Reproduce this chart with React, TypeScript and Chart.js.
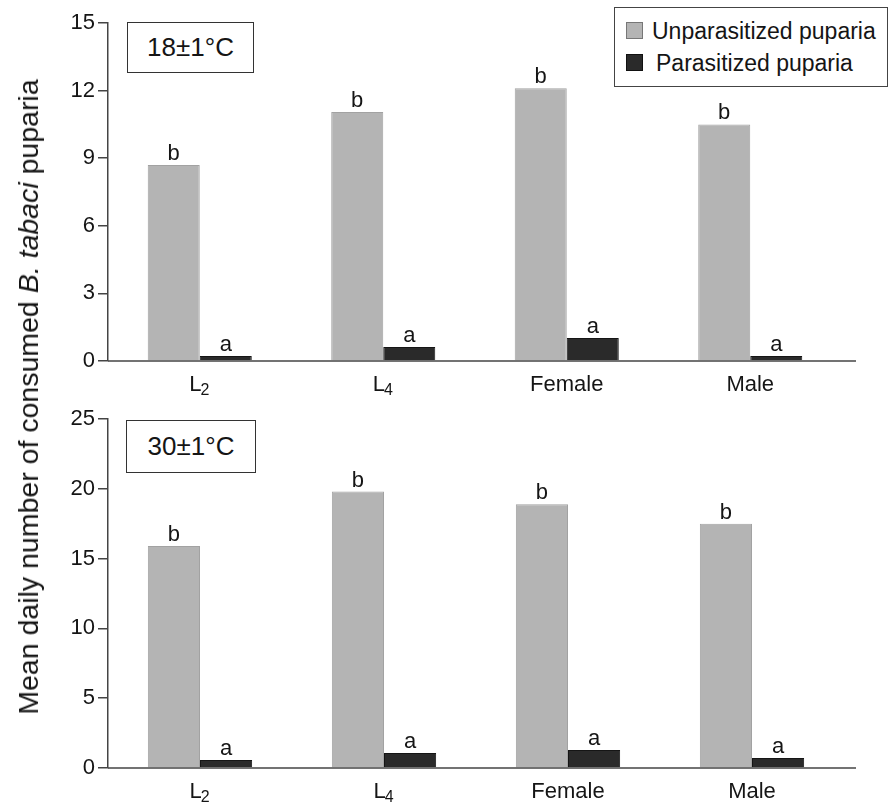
import React, { useEffect, useRef } from "react";
import { Chart, registerables } from "chart.js";

Chart.register(...registerables);

// ---------- data ----------
const categoryLabels = ["L", "L", "Female", "Male"];
const categorySubscripts = ["2", "4", "", ""];

const seriesNames = ["Unparasitized puparia", "Parasitized puparia"];

const top18Unparasitized = [8.7, 11.05, 12.1, 10.5];
const top18Parasitized = [0.22, 0.62, 1.02, 0.22];
const top18UnparLetters = ["b", "b", "b", "b"];
const top18ParLetters = ["a", "a", "a", "a"];
const top18Ticks = { min: 0, max: 15, step: 3 };

const bottom30Unparasitized = [15.9, 19.8, 18.9, 17.5];
const bottom30Parasitized = [0.57, 1.07, 1.29, 0.72];
const bottom30UnparLetters = ["b", "b", "b", "b"];
const bottom30ParLetters = ["a", "a", "a", "a"];
const bottom30Ticks = { min: 0, max: 25, step: 5 };

const panelTitles = ["18\u00b11\u00b0C", "30\u00b11\u00b0C"];
const yTitleParts = ["Mean daily number of consumed ", "B. tabaci", " puparia"];

// ---------- styles ----------
const FONT = "'Liberation Sans', Arial, Helvetica, sans-serif";
const TEXT = "#151515";
const AXIS = "#444444";
const GRAY = "#b4b4b4";
const GRAY_BORDER = "#a2a2a2";
const DARK = "#2a2a2a";
const DARK_BORDER = "#151515";

const annotatePlugin = {
  id: "annotate",
  afterDatasetsDraw(chart: any, _args: any, opts: any) {
    const ctx = chart.ctx;
    const area = chart.chartArea;
    const xs = chart.scales.x;
    ctx.save();
    // x axis line (extends a bit past the last group)
    ctx.strokeStyle = AXIS;
    ctx.lineWidth = 1.5;
    ctx.beginPath();
    ctx.moveTo(area.left, area.bottom);
    ctx.lineTo(area.right + opts.axisExtend, area.bottom);
    ctx.stroke();

    // significance letters
    ctx.fillStyle = TEXT;
    ctx.font = `22px ${FONT}`;
    ctx.textAlign = "center";
    ctx.textBaseline = "alphabetic";
    chart.data.datasets.forEach((_ds: any, di: number) => {
      const meta = chart.getDatasetMeta(di);
      meta.data.forEach((bar: any, i: number) => {
        const letter = opts.letters[di][i];
        if (letter) ctx.fillText(letter, bar.x, bar.y - 5);
      });
    });

    // category labels with subscripts
    ctx.textAlign = "left";
    categoryLabels.forEach((lab, i) => {
      const cx = xs.getPixelForValue(i);
      const sub = categorySubscripts[i];
      ctx.font = `22px ${FONT}`;
      const wMain = ctx.measureText(lab).width;
      ctx.font = `16px ${FONT}`;
      const wSub = sub ? ctx.measureText(sub).width : 0;
      const start = cx - (wMain + wSub) / 2;
      ctx.font = `22px ${FONT}`;
      ctx.fillText(lab, start, area.bottom + 30);
      if (sub) {
        ctx.font = `16px ${FONT}`;
        ctx.fillText(sub, start + wMain - 1, area.bottom + 34);
      }
    });
    ctx.restore();
  },
};

type PanelProps = {
  top: number;
  height: number;
  unpar: number[];
  par: number[];
  letters: string[][];
  ticks: { min: number; max: number; step: number };
  padTop: number;
  padRight: number;
  xHeight: number;
  axisExtend: number;
};

function Panel(p: PanelProps) {
  const ref = useRef<HTMLCanvasElement | null>(null);
  useEffect(() => {
    if (!ref.current) return;
    const chart = new Chart(ref.current, {
      type: "bar",
      data: {
        labels: categoryLabels.map((l, i) => l + categorySubscripts[i]),
        datasets: [
          {
            label: seriesNames[0],
            data: p.unpar,
            backgroundColor: GRAY,
            borderColor: GRAY_BORDER,
            borderWidth: 1,
            categoryPercentage: 0.567,
            barPercentage: 1,
          },
          {
            label: seriesNames[1],
            data: p.par,
            backgroundColor: DARK,
            borderColor: DARK_BORDER,
            borderWidth: 1,
            categoryPercentage: 0.567,
            barPercentage: 1,
          },
        ],
      },
      options: {
        responsive: false,
        animation: false,
        layout: { padding: { left: 0, right: p.padRight, top: p.padTop, bottom: 0 } },
        plugins: {
          legend: { display: false },
          tooltip: { enabled: false },
          annotate: { letters: p.letters, axisExtend: p.axisExtend },
        } as any,
        scales: {
          x: {
            type: "category",
            offset: true,
            grid: { display: false },
            border: { display: false },
            ticks: { display: false },
            afterFit: (s: any) => {
              s.height = p.xHeight;
            },
          },
          y: {
            min: p.ticks.min,
            max: p.ticks.max,
            ticks: {
              stepSize: p.ticks.step,
              color: TEXT,
              font: { size: 22, family: FONT },
              padding: 3,
            },
            grid: {
              display: true,
              drawOnChartArea: false,
              drawTicks: true,
              tickLength: 10,
              color: AXIS,
              lineWidth: 1.5,
            },
            border: { display: true, color: AXIS, width: 1.5 },
            afterFit: (s: any) => {
              s.width = 108;
            },
          },
        },
      },
      plugins: [annotatePlugin],
    });
    return () => chart.destroy();
  }, []);
  return (
    <canvas
      ref={ref}
      width={896}
      height={p.height}
      style={{ position: "absolute", left: 0, top: p.top, width: 896, height: p.height }}
    />
  );
}

const boxStyle = (left: number, top: number, w: number, h: number): React.CSSProperties => ({
  position: "absolute",
  left,
  top,
  width: w,
  height: h,
  boxSizing: "border-box",
  border: `1.5px solid #333`,
  background: "#fff",
  display: "flex",
  alignItems: "center",
  justifyContent: "center",
  fontSize: 26,
  color: TEXT,
  fontFamily: FONT,
});

export default function App() {
  return (
    <div
      style={{
        position: "absolute",
        left: 0,
        top: 0,
        width: 896,
        height: 804,
        background: "#fff",
        fontFamily: FONT,
        color: TEXT,
        overflow: "hidden",
      }}
    >
      <Panel
        top={0}
        height={400}
        unpar={top18Unparasitized}
        par={top18Parasitized}
        letters={[top18UnparLetters, top18ParLetters]}
        ticks={top18Ticks}
        padTop={23}
        padRight={54}
        xHeight={39}
        axisExtend={14}
      />
      <Panel
        top={400}
        height={404}
        unpar={bottom30Unparasitized}
        par={bottom30Parasitized}
        letters={[bottom30UnparLetters, bottom30ParLetters]}
        ticks={bottom30Ticks}
        padTop={19}
        padRight={52}
        xHeight={36}
        axisExtend={12}
      />

      <div style={boxStyle(127, 22, 127, 51)}>{panelTitles[0]}</div>
      <div style={boxStyle(126, 420, 130, 53)}>{panelTitles[1]}</div>

      {/* legend */}
      <div
        style={{
          position: "absolute",
          left: 614,
          top: 7,
          width: 274,
          height: 80,
          boxSizing: "border-box",
          border: "1.5px solid #444",
          background: "#fff",
          fontSize: 23,
        }}
      >
        <div
          style={{
            position: "absolute",
            left: 11,
            top: 14,
            width: 17,
            height: 17,
            boxSizing: "border-box",
            background: GRAY,
            border: "1px solid #777",
          }}
        />
        <div
          style={{
            position: "absolute",
            left: 37,
            top: 22.5,
            transform: "translateY(-50%)",
            whiteSpace: "nowrap",
            lineHeight: "26px",
          }}
        >
          {seriesNames[0]}
        </div>
        <div
          style={{
            position: "absolute",
            left: 11,
            top: 46,
            width: 17,
            height: 17,
            boxSizing: "border-box",
            background: DARK,
            border: "1px solid #111",
          }}
        />
        <div
          style={{
            position: "absolute",
            left: 41,
            top: 54.5,
            transform: "translateY(-50%)",
            whiteSpace: "nowrap",
            lineHeight: "26px",
          }}
        >
          {seriesNames[1]}
        </div>
      </div>

      {/* y axis title */}
      <div
        style={{
          position: "absolute",
          left: 27.5,
          top: 396.5,
          transform: "translate(-50%, -50%) rotate(-90deg)",
          whiteSpace: "nowrap",
          fontSize: 28.5,
          lineHeight: "32px",
        }}
      >
        {yTitleParts[0]}
        <i>{yTitleParts[1]}</i>
        {yTitleParts[2]}
      </div>
    </div>
  );
}
